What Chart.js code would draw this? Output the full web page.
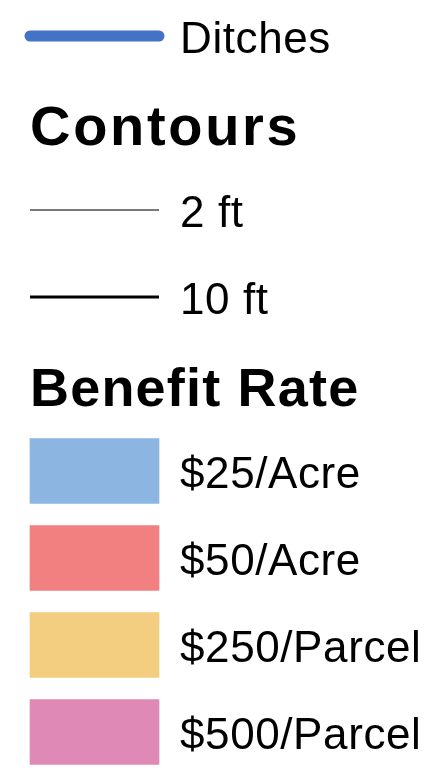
<!DOCTYPE html>
<html>
<head>
<meta charset="utf-8">
<script src="https://cdn.jsdelivr.net/npm/chart.js@4.4.1/dist/chart.umd.min.js"></script>
<style>
    html, body { margin: 0; padding: 0; background: #fff; }
    #wrap { width: 438px; height: 770px; position: relative; }
</style>
</head>
<body>
<div id="wrap"><canvas id="legend-chart"></canvas></div>
<script>
// legend rows, top to bottom
const rowLabels = ['Ditches', 'Contours', '2 ft', '10 ft', 'Benefit Rate', '$25/Acre', '$50/Acre', '$250/Parcel', '$500/Parcel'];
const headingRows = ['Contours', 'Benefit Rate'];

// line symbols
const lineItems = ['Ditches', '2 ft', '10 ft'];
const lineColors = ['#4472c4', '#4d4d4d', '#000000'];
const lineWidths = [11, 1.3, 3];

// filled symbols
const rateItems = ['$25/Acre', '$50/Acre', '$250/Parcel', '$500/Parcel'];
const rateColors = ['#8db5e2', '#f28080', '#f3ce80', '#df89b7'];

// swatch extent on the x axis
const swatchSpan = [0, 1];

const labelFont = '"Liberation Sans", Arial, sans-serif';
const headingStyle = {
    'Contours': { size: 56, spacing: 2.7 },
    'Benefit Rate': { size: 54, spacing: 1.2 },
};

const legendText = {
    id: 'legendText',
    afterDatasetsDraw(chart) {
        const ctx = chart.ctx;
        const y = chart.scales.y;
        const x = chart.scales.x;
        ctx.save();
        ctx.fillStyle = '#000';
        ctx.textAlign = 'left';
        ctx.textBaseline = 'alphabetic';
        rowLabels.forEach((label, i) => {
            const py = y.getPixelForValue(i);
            if (headingRows.includes(label)) {
                const st = headingStyle[label];
                ctx.font = 'bold ' + st.size + 'px ' + labelFont;
                ctx.letterSpacing = st.spacing + 'px';
                ctx.fillText(label, x.getPixelForValue(swatchSpan[0]), py + 22);
            } else {
                ctx.font = '44px ' + labelFont;
                ctx.letterSpacing = '0.6px';
                ctx.fillText(label, x.getPixelForValue(swatchSpan[1]) + 21, py + 17);
            }
        });
        ctx.restore();
    }
};

const datasets = lineItems.map((name, i) => ({
    type: 'line',
    label: name,
    data: swatchSpan.map(v => ({ x: v, y: name })),
    borderColor: lineColors[i],
    borderWidth: lineWidths[i],
    borderCapStyle: i === 0 ? 'round' : 'butt',
    pointRadius: 0,
    clip: false,
}));

datasets.push({
    type: 'bar',
    label: 'Benefit Rate',
    indexAxis: 'y',
    data: rateItems.map(name => ({ y: name, x: swatchSpan.slice() })),
    backgroundColor: rateColors,
    borderWidth: 0,
    barThickness: 65,
    clip: false,
});

new Chart(document.getElementById('legend-chart'), {
    type: 'bar',
    data: { labels: rowLabels, datasets: datasets },
    options: {
        responsive: true,
        maintainAspectRatio: false,
        animation: false,
        layout: { padding: { left: 30, right: 279, top: 36, bottom: 38 } },
        plugins: {
            legend: { display: false },
            tooltip: { enabled: false },
        },
        scales: {
            x: { type: 'linear', min: 0, max: 1, offset: false, display: false },
            y: { type: 'category', labels: rowLabels, offset: false, display: false },
        },
    },
    plugins: [legendText],
});
</script>
</body>
</html>
